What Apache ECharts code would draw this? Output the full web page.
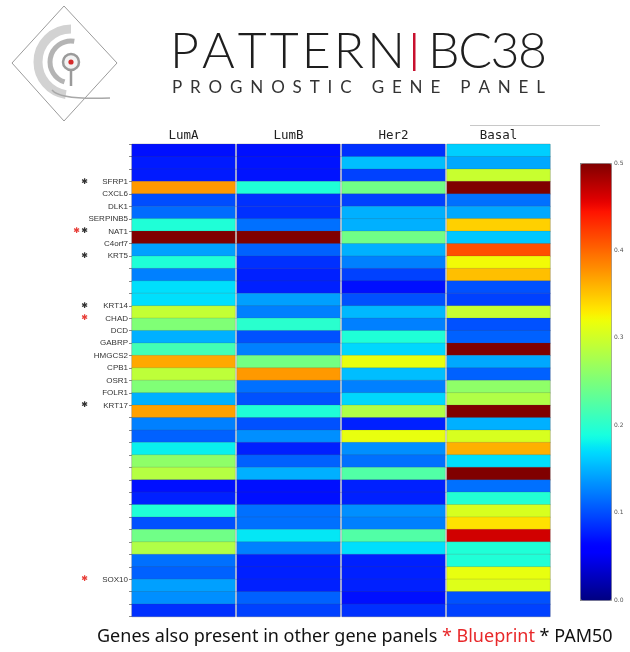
<!DOCTYPE html>
<html>
<head>
<meta charset="utf-8">
<script src="https://cdn.jsdelivr.net/npm/echarts@6/dist/echarts.min.js"></script>
<style>
  html, body { margin: 0; padding: 0; background: #fff; }
  #chart { width: 630px; height: 652px; }
</style>
</head>
<body>
<div id="chart"></div>
<script>
// Subtypes shown as columns
const subtypes = ['LumA', 'LumB', 'Her2', 'Basal'];

// Per-gene scores (38 genes, top to bottom), one array per subtype
const lumA = [0.070, 0.075, 0.075, 0.374, 0.100, 0.115, 0.194, 0.500, 0.141, 0.194,
              0.125, 0.172, 0.172, 0.293, 0.253, 0.149, 0.215, 0.366, 0.290, 0.253,
              0.149, 0.370, 0.125, 0.110, 0.180, 0.262, 0.285, 0.070, 0.078, 0.194,
              0.102, 0.243, 0.282, 0.117, 0.110, 0.141, 0.133, 0.086];
const lumB = [0.070, 0.072, 0.072, 0.194, 0.086, 0.086, 0.117, 0.500, 0.110, 0.086,
              0.078, 0.078, 0.141, 0.125, 0.200, 0.102, 0.125, 0.245, 0.374, 0.117,
              0.102, 0.194, 0.102, 0.133, 0.078, 0.110, 0.149, 0.070, 0.070, 0.117,
              0.117, 0.176, 0.125, 0.078, 0.078, 0.078, 0.110, 0.094];
const her2 = [0.086, 0.156, 0.094, 0.243, 0.094, 0.149, 0.149, 0.243, 0.149, 0.125,
              0.094, 0.070, 0.102, 0.153, 0.125, 0.194, 0.168, 0.316, 0.156, 0.125,
              0.168, 0.282, 0.078, 0.316, 0.133, 0.117, 0.224, 0.078, 0.078, 0.133,
              0.125, 0.224, 0.172, 0.078, 0.078, 0.078, 0.070, 0.086];
const basal = [0.164, 0.145, 0.296, 0.500, 0.117, 0.145, 0.345, 0.160, 0.413, 0.322,
               0.354, 0.102, 0.094, 0.296, 0.102, 0.110, 0.500, 0.145, 0.110, 0.262,
               0.282, 0.500, 0.149, 0.306, 0.362, 0.172, 0.500, 0.117, 0.196, 0.306,
               0.336, 0.465, 0.194, 0.194, 0.316, 0.310, 0.102, 0.094];
const columns = [lumA, lumB, her2, basal];

// Gene names placed on the row boundaries (39 tick positions, '' = unlabeled)
const tickGenes = ['', '', '', 'SFRP1', 'CXCL6', 'DLK1', 'SERPINB5', 'NAT1', 'C4orf7', 'KRT5',
                   '', '', '', 'KRT14', 'CHAD', 'DCD', 'GABRP', 'HMGCS2', 'CPB1', 'OSR1',
                   'FOLR1', 'KRT17', '', '', '', '', '', '', '', '',
                   '', '', '', '', '', 'SOX10', '', '', ''];
// Genes shared with other panels
const blueprintGenes = ['NAT1', 'CHAD', 'SOX10'];
const pam50Genes = ['SFRP1', 'NAT1', 'KRT5', 'KRT14', 'KRT17'];

// Colour bar scale
const scaleMin = 0, scaleMax = 0.5, scaleStep = 0.1;

// matplotlib "jet" colormap segments
const jetSeg = {
  r: [[0, 0], [0.35, 0], [0.66, 1], [0.89, 1], [1, 0.5]],
  g: [[0, 0], [0.125, 0], [0.375, 1], [0.64, 1], [0.91, 0], [1, 0]],
  b: [[0, 0.5], [0.11, 1], [0.34, 1], [0.65, 0], [1, 0]]
};
function seg(pts, t) {
  for (let i = 1; i < pts.length; i++) {
    if (t <= pts[i][0]) {
      const [x0, y0] = pts[i - 1], [x1, y1] = pts[i];
      return y0 + (y1 - y0) * (t - x0) / (x1 - x0);
    }
  }
  return pts[pts.length - 1][1];
}
function jet(t) {
  const c = v => Math.round(v * 255);
  return `rgb(${c(seg(jetSeg.r, t))},${c(seg(jetSeg.g, t))},${c(seg(jetSeg.b, t))})`;
}
const jetColors = [];
for (let i = 0; i <= 64; i++) jetColors.push(jet(i / 64));

const rowIds = lumA.map((_, i) => String(i));

// Layout of the four heatmap panels
const panelLeft = 132, panelWidth = 103, panelGap = 2, panelTop = 144.3, panelHeight = 472.3;

const grids = [], xAxes = [], yAxes = [], series = [];
subtypes.forEach((name, i) => {
  grids.push({
    left: panelLeft + i * (panelWidth + panelGap), top: panelTop,
    width: panelWidth, height: panelHeight,
    show: true, borderColor: '#c4c4c4', borderWidth: 1, backgroundColor: 'transparent'
  });
  xAxes.push({
    type: 'category', gridIndex: i, data: [name], position: 'top',
    axisLine: { show: false }, axisTick: { show: false }, splitLine: { show: false },
    axisLabel: { fontFamily: 'DejaVu Sans Mono', fontSize: 12.5, color: '#222', margin: 2 }
  });
  yAxes.push({
    type: 'category', gridIndex: i, data: rowIds, inverse: true, show: false
  });
  series.push({
    type: 'heatmap', xAxisIndex: i, yAxisIndex: i,
    data: columns[i].map((v, r) => [0, r, v]),
    itemStyle: { borderColor: 'rgba(70,70,70,0.28)', borderWidth: 0.6 },
    emphasis: { disabled: true },
    label: { show: false }
  });
});

// Boundary gene labels with panel markers
yAxes.push({
  type: 'category', gridIndex: 0, data: tickGenes, inverse: true, boundaryGap: false,
  position: 'left',
  axisLine: { show: false },
  axisTick: { show: true, length: 3, interval: 0, lineStyle: { color: '#8a8a8a', width: 1 } },
  splitLine: { show: false },
  axisLabel: {
    interval: 0, margin: 4,
    formatter: g => {
      if (!g) return '';
      const bp = blueprintGenes.includes(g), pm = pam50Genes.includes(g);
      let a = '{e| }', b = '{e2| }';
      if (bp && pm) { a = '{r1|✱}'; b = '{k2|✱}'; }
      else if (bp) { b = '{r2|✱}'; }
      else if (pm) { b = '{k2|✱}'; }
      return a + b + '{g|' + g + '}';
    },
    rich: {
      e: { width: 9 }, e2: { width: 7 },
      r1: { width: 9, align: 'center', color: '#e8403a', fontSize: 8, fontFamily: 'DejaVu Sans' },
      r2: { width: 7, align: 'center', color: '#e8403a', fontSize: 8, fontFamily: 'DejaVu Sans' },
      k2: { width: 7, align: 'center', color: '#333', fontSize: 8, fontFamily: 'DejaVu Sans' },
      g: { width: 40, align: 'right', color: '#333', fontSize: 8, fontFamily: 'Liberation Sans' }
    }
  }
});

// Colour bar axis
grids.push({ left: 580, top: 163, width: 31, height: 437, show: false });
xAxes.push({ type: 'value', gridIndex: 4, show: false, min: 0, max: 1 });
yAxes.push({
  type: 'value', gridIndex: 4, position: 'right', min: scaleMin, max: scaleMax, interval: scaleStep,
  axisLine: { show: false }, splitLine: { show: false },
  axisTick: { show: true, length: 2, lineStyle: { color: '#777' } },
  axisLabel: { fontSize: 6, color: '#555', margin: 3, fontFamily: 'DejaVu Sans', formatter: v => v.toFixed(1) }
});

// Spread a word's letters evenly between two x positions
const mctx = document.createElement('canvas').getContext('2d');
function spacedLetters(str, font, x0, x1, y, fill) {
  mctx.font = font;
  const chars = [...str];
  const widths = chars.map(ch => mctx.measureText(ch).width);
  const totalW = widths.reduce((a, b) => a + b, 0);
  const spacing = (x1 - x0 - totalW) / (chars.length - 1);
  const out = [];
  let cx = x0;
  chars.forEach((ch, i) => {
    if (ch !== ' ') {
      out.push({
        type: 'text', silent: true,
        style: { text: ch, x: cx, y: y, font: font, fill: fill,
                 textAlign: 'left', textVerticalAlign: 'middle', align: 'left', verticalAlign: 'middle' }
      });
    }
    cx += widths[i] + spacing;
  });
  return out;
}

const titleFont = '300 50px Lato';
const graphics = [
  // logo
  { type: 'polygon', silent: true, shape: { points: [[64, 6], [117, 63], [64, 121], [12, 63]] },
    style: { fill: 'none', stroke: '#9c9c9c', lineWidth: 1 } },
  { type: 'arc', silent: true, shape: { cx: 71, cy: 62, r: 33, startAngle: -Math.PI / 2, endAngle: Math.PI * 0.55, clockwise: false },
    style: { fill: 'none', stroke: '#d2d2d2', lineWidth: 9 } },
  { type: 'arc', silent: true, shape: { cx: 71, cy: 62, r: 21, startAngle: -Math.PI * 0.45, endAngle: Math.PI * 0.6, clockwise: false },
    style: { fill: 'none', stroke: '#b4b4b4', lineWidth: 5 } },
  { type: 'circle', silent: true, shape: { cx: 71, cy: 62, r: 8 },
    style: { fill: '#f2f2f2', stroke: '#9a9a9a', lineWidth: 2.5 } },
  { type: 'line', silent: true, shape: { x1: 71, y1: 70, x2: 71, y2: 86 },
    style: { stroke: '#9a9a9a', lineWidth: 2.5 } },
  { type: 'bezierCurve', silent: true, shape: { x1: 52, y1: 90, cpx1: 60, cpy1: 100, x2: 110, y2: 98 },
    style: { fill: 'none', stroke: '#a8a8a8', lineWidth: 1.5 } },
  { type: 'circle', silent: true, shape: { cx: 71, cy: 62, r: 2.6 }, style: { fill: '#d42a2a' } },
  // title
  ...spacedLetters('PATTERN', titleFont, 170, 405, 52, '#1e1e1e'),
  { type: 'rect', silent: true, shape: { x: 413, y: 33, width: 2.5, height: 38 }, style: { fill: '#c8102e' } },
  ...spacedLetters('BC38', titleFont, 428, 547, 52, '#1e1e1e'),
  ...spacedLetters('PROGNOSTIC GENE PANEL', '400 17px Lato', 172, 545, 88, '#333'),
  // separator rule at upper right
  { type: 'line', silent: true, shape: { x1: 470, y1: 125.5, x2: 600, y2: 125.5 },
    style: { stroke: '#c8c8c8', lineWidth: 1 } },
  // caption
  { type: 'text', silent: true,
    style: {
      text: '{k|Genes also present in other gene panels }{r|* Blueprint}{k| * PAM50}',
      x: 97, y: 637, textAlign: 'left', textVerticalAlign: 'middle', align: 'left', verticalAlign: 'middle',
      rich: {
        k: { fontFamily: 'Noto Sans', fontSize: 18, fill: '#111', color: '#111' },
        r: { fontFamily: 'Noto Sans', fontSize: 18, fill: '#e8282a', color: '#e8282a' }
      }
    } }
];

const chart = echarts.init(document.getElementById('chart'), null, { renderer: 'canvas' });
chart.setOption({
  backgroundColor: '#ffffff',
  animation: false,
  grid: grids,
  xAxis: xAxes,
  yAxis: yAxes,
  visualMap: {
    type: 'continuous', seriesIndex: [0, 1, 2, 3],
    min: scaleMin, max: scaleMax, calculable: false, realtime: false,
    orient: 'vertical', left: 580, top: 163, itemWidth: 31, itemHeight: 437,
    padding: 0, borderColor: '#8c8c8c', borderWidth: 1, text: null, showLabel: false,
    inRange: { color: jetColors }
  },
  series: series,
  graphic: graphics
});
</script>
</body>
</html>
